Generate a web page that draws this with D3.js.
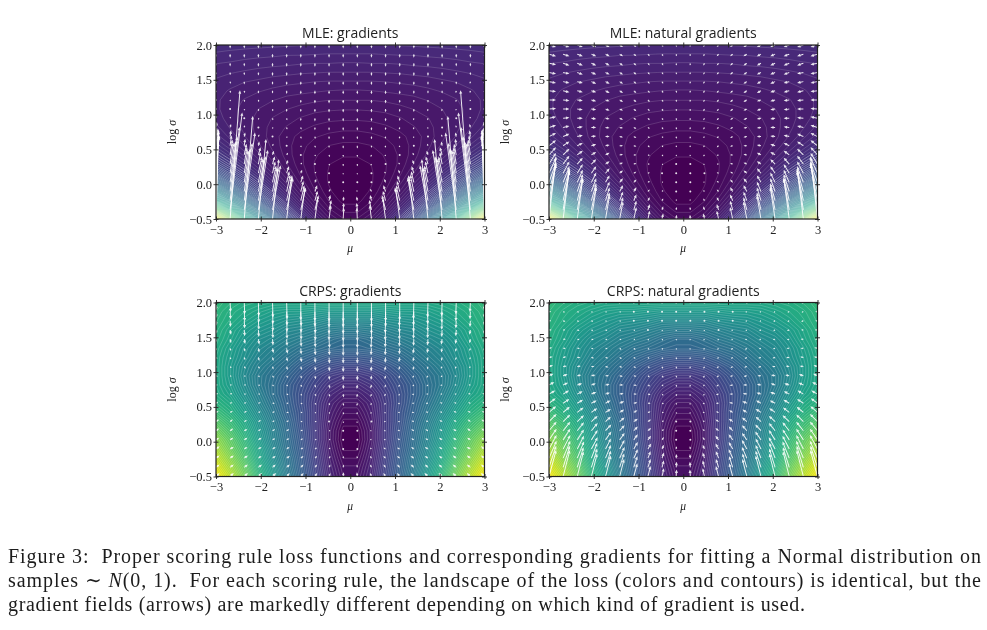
<!DOCTYPE html>
<html><head><meta charset="utf-8">
<script src="https://cdn.jsdelivr.net/npm/d3@7"></script>
<style>
html,body{margin:0;padding:0;background:#fff;overflow:hidden}
svg{display:block;filter:blur(.5px)}
</style></head><body><svg id="c" width="987" height="630"></svg>
<script>
// Half-grid readings: columns run from |mu|=3 in to |mu|=0.158, rows from log sigma=-0.5 up to 2.0.
const muTicks=[-3,-2,-1,0,1,2,3];
const sigmaTicks=[-0.5,0,0.5,1,1.5,2];
const muRange=[-3,3], sigmaRange=[-0.5,2];
const titles=["MLE: gradients","MLE: natural gradients","CRPS: gradients","CRPS: natural gradients"];

const mleLoss=[
[13.09,10.64,8.48,6.58,4.96,3.60,2.52,1.70,1.16,.89],
[10.07,8.19,6.53,5.07,3.83,2.78,1.95,1.32,.91,.70],
[7.79,6.34,5.06,3.94,2.99,2.18,1.54,1.06,.74,.58],
[6.06,4.95,3.97,3.10,2.37,1.76,1.26,.89,.65,.53],
[4.77,3.92,3.16,2.50,1.93,1.46,1.08,.80,.61,.51],
[3.80,3.15,2.57,2.06,1.62,1.26,.97,.75,.61,.53],
[3.09,2.59,2.14,1.75,1.42,1.14,.91,.74,.63,.58],
[2.58,2.19,1.84,1.54,1.29,1.07,.90,.77,.68,.64],
[2.21,1.91,1.64,1.41,1.22,1.05,.92,.82,.75,.72],
[1.95,1.72,1.52,1.34,1.19,1.06,.96,.89,.84,.81],
[1.80,1.62,1.47,1.33,1.21,1.12,1.04,.98,.94,.92],
[1.70,1.57,1.45,1.34,1.25,1.18,1.12,1.07,1.04,1.03],
[1.66,1.56,1.46,1.38,1.31,1.26,1.21,1.17,1.15,1.14],
[1.66,1.57,1.50,1.44,1.39,1.34,1.31,1.28,1.26,1.26],
[1.68,1.62,1.56,1.52,1.48,1.44,1.42,1.40,1.38,1.37],
[1.73,1.68,1.64,1.61,1.57,1.55,1.53,1.51,1.50,1.50],
[1.81,1.77,1.74,1.71,1.69,1.67,1.65,1.64,1.63,1.63],
[1.89,1.87,1.84,1.82,1.80,1.79,1.77,1.76,1.76,1.75],
[1.99,1.97,1.95,1.93,1.92,1.90,1.90,1.89,1.88,1.88],
[2.09,2.07,2.06,2.05,2.04,2.03,2.02,2.01,2.01,2.01]];

const crpsLoss=[
[.99,.90,.79,.66,.54,.42,.31,.21,.11,.05],
[.95,.86,.76,.63,.52,.40,.30,.20,.10,.04],
[.91,.82,.72,.60,.49,.39,.29,.19,.09,.025],
[.87,.78,.69,.58,.47,.37,.28,.18,.08,.01],
[.83,.75,.66,.55,.45,.36,.27,.17,.07,0],
[.78,.71,.63,.53,.44,.35,.26,.17,.07,.005],
[.73,.67,.60,.51,.42,.34,.25,.17,.08,.02],
[.68,.63,.56,.48,.40,.32,.25,.17,.09,.04],
[.64,.60,.53,.45,.38,.31,.24,.17,.10,.06],
[.61,.57,.50,.43,.36,.30,.24,.18,.12,.09],
[.60,.55,.48,.41,.36,.30,.25,.20,.15,.12],
[.60,.54,.47,.41,.37,.32,.27,.22,.18,.16],
[.60,.54,.48,.43,.39,.35,.30,.26,.23,.21],
[.60,.55,.50,.45,.42,.38,.34,.31,.28,.27],
[.61,.56,.51,.47,.44,.41,.38,.36,.34,.33],
[.62,.58,.53,.49,.47,.44,.42,.40,.37,.35],
[.63,.59,.55,.52,.50,.47,.46,.44,.42,.41],
[.64,.61,.58,.55,.53,.51,.50,.49,.47,.47],
[.65,.62,.60,.58,.56,.55,.55,.54,.53,.53],
[.66,.64,.62,.61,.60,.60,.60,.60,.60,.60]];

// Arrow components: du = step toward mu=0, dv = step up in log sigma (both in axis units)
const mleGradDu=[
[.05,.22,.19,.17,.14,.12,.09,.065,.04,.013],
[.05,.27,.24,.21,.18,.14,.11,.08,.05,.015],
[.05,.21,.18,.16,.13,.11,.08,.06,.03,.015],
[.05,.16,.14,.13,.10,.08,.06,.05,.03,.015],
[.06,.13,.11,.10,.08,.06,.05,.03,.015,0],
[.07,.10,.08,.08,.06,.05,.03,.03,.015,0],
[.07,.07,.06,.05,.05,.03,.03,.015,.015,0],
[.06,.05,.05,.05,.03,.03,.015,.015,.015,0],
[.03,.03,.02,.02,.02,.01,.01,.01,0,0],
[.02,.02,.02,.02,.01,.01,.01,.01,0,0],
[.02,.02,.01,.01,.01,.01,.01,0,0,0],
[.01,.01,.01,.01,.01,.01,0,0,0,0],
[.01,.01,.01,.01,.01,0,0,0,0,0],
[.01,.01,.01,.01,0,0,0,0,0,0],
[.01,.01,.01,0,0,0,0,0,0,0],
[.01,.01,0,0,0,0,0,0,0,0],
[.01,0,0,0,0,0,0,0,0,0],
[0,0,0,0,0,0,0,0,0,0],
[0,0,0,0,0,0,0,0,0,0],
[0,0,0,0,0,0,0,0,0,0]];
const mleGradDv=[
[1.10,1.85,1.48,1.15,.86,.63,.44,.30,.20,.16],
[1.05,1.40,1.11,.86,.64,.46,.32,.21,.14,.10],
[1.00,1.06,.83,.64,.47,.33,.22,.14,.08,.06],
[.90,.79,.62,.47,.34,.24,.15,.09,.04,.02],
[.74,.59,.46,.34,.24,.16,.10,.05,.01,0],
[.55,.43,.33,.24,.17,.10,.05,.02,-.01,-.02],
[.40,.31,.24,.17,.11,.06,.02,-.01,-.02,-.03],
[.29,.22,.16,.11,.06,.03,0,-.02,-.03,-.03],
[.20,.15,.10,.06,.03,0,-.02,-.03,-.03,-.04],
[.13,.09,.06,.03,0,-.02,-.03,-.03,-.04,-.04],
[.08,.05,.03,0,-.02,-.03,-.03,-.04,-.045,-.045],
[.04,.02,0,-.02,-.03,-.03,-.04,-.045,-.045,-.045],
[.01,0,-.02,-.03,-.03,-.04,-.04,-.045,-.05,-.05],
[-.01,-.02,-.03,-.03,-.04,-.04,-.045,-.05,-.05,-.05],
[-.02,-.03,-.03,-.04,-.04,-.045,-.05,-.05,-.05,-.05],
[-.03,-.03,-.04,-.04,-.045,-.05,-.05,-.05,-.05,-.05],
[-.03,-.04,-.04,-.045,-.05,-.05,-.05,-.05,-.05,-.05],
[-.04,-.045,-.045,-.05,-.05,-.05,-.05,-.05,-.05,-.05],
[-.045,-.05,-.05,-.05,-.05,-.05,-.05,-.05,-.05,-.05],
[-.05,-.05,-.05,-.05,-.05,-.05,-.05,-.05,-.05,-.05]];

const mleNaturalDuRow=[.157,.14,.124,.108,.091,.075,.058,.041,.025,.008];
const mleNaturalDv=[
[.90,.73,.59,.45,.34,.25,.17,.12,.08,.06],
[.69,.56,.44,.34,.25,.18,.13,.08,.05,.04],
[.52,.42,.33,.25,.19,.13,.09,.05,.03,.02],
[.39,.31,.25,.19,.14,.09,.06,.03,.02,.01],
[.29,.23,.18,.14,.10,.06,.04,.02,.01,0],
[.22,.17,.13,.10,.07,.04,.02,.01,0,-.01],
[.16,.12,.09,.07,.04,.02,.01,0,-.01,-.01],
[.11,.09,.06,.04,.03,.01,0,-.01,-.02,-.02],
[.08,.06,.04,.02,.01,0,-.01,-.02,-.02,-.02],
[.05,.04,.02,.01,0,-.01,-.02,-.02,-.02,-.03],
[.03,.02,.01,0,-.01,-.01,-.02,-.02,-.03,-.03],
[.02,.01,0,-.01,-.01,-.02,-.02,-.03,-.03,-.03],
[.01,0,-.01,-.01,-.02,-.02,-.03,-.03,-.03,-.03],
[0,-.01,-.01,-.02,-.02,-.03,-.03,-.03,-.03,-.03],
[-.01,-.02,-.02,-.02,-.03,-.03,-.03,-.03,-.03,-.03],
[-.02,-.02,-.02,-.03,-.03,-.03,-.03,-.03,-.03,-.03],
[-.02,-.02,-.03,-.03,-.03,-.03,-.03,-.03,-.03,-.03],
[-.02,-.03,-.03,-.03,-.03,-.03,-.03,-.03,-.03,-.03],
[-.03,-.03,-.03,-.03,-.03,-.03,-.03,-.03,-.03,-.03],
[-.03,-.03,-.03,-.03,-.03,-.03,-.03,-.03,-.03,-.03]];

const crpsGradDu=[
[.08,.08,.08,.08,.08,.07,.06,.05,.03,.01],
[.08,.08,.08,.08,.07,.07,.06,.05,.03,.01],
[.08,.08,.08,.07,.07,.07,.06,.05,.03,.01],
[.08,.08,.07,.07,.07,.06,.06,.05,.03,.01],
[.07,.07,.07,.07,.06,.06,.05,.04,.03,.01],
[.07,.07,.07,.06,.06,.06,.05,.04,.03,.01],
[.07,.06,.06,.06,.05,.05,.04,.04,.02,.01],
[.06,.06,.06,.05,.05,.05,.04,.03,.02,.01],
[.05,.05,.05,.05,.05,.04,.04,.03,.02,.01],
[.05,.05,.04,.04,.04,.04,.03,.03,.02,.01],
[.04,.04,.04,.04,.03,.03,.03,.02,.02,.01],
[.04,.03,.03,.03,.03,.03,.02,.02,.01,0],
[.03,.03,.03,.03,.02,.02,.02,.02,.01,0],
[.03,.02,.02,.02,.02,.02,.02,.01,.01,0],
[.02,.02,.02,.02,.02,.02,.01,.01,.01,0],
[.02,.02,.02,.02,.01,.01,.01,.01,.01,0],
[.02,.02,.01,.01,.01,.01,.01,.01,0,0],
[.01,.01,.01,.01,.01,.01,.01,.01,0,0],
[.01,.01,.01,.01,.01,.01,.01,0,0,0],
[.01,.01,.01,.01,.01,.01,0,0,0,0]];
const crpsGradDv=[
[.05,.05,.05,.05,.05,.05,.05,.05,.05,.06],
[.04,.04,.04,.04,.04,.04,.04,.04,.04,.04],
[.04,.04,.04,.03,.03,.03,.03,.03,.03,.03],
[.04,.03,.03,.03,.03,.03,.02,.02,.02,.01],
[.03,.03,.03,.03,.02,.02,.02,.01,.01,0],
[.03,.03,.02,.02,.02,.02,.01,0,0,-.01],
[.03,.03,.02,.02,.01,.01,0,0,-.01,-.02],
[.02,.02,.02,.01,.01,0,0,-.01,-.02,-.03],
[.02,.01,.01,.01,0,0,-.01,-.02,-.03,-.04],
[.01,.01,0,0,0,-.01,-.02,-.03,-.04,-.05],
[0,0,0,-.01,-.02,-.02,-.03,-.04,-.05,-.06],
[-.01,-.01,-.01,-.02,-.03,-.03,-.04,-.05,-.06,-.07],
[-.01,-.02,-.03,-.03,-.04,-.05,-.05,-.06,-.07,-.08],
[-.02,-.03,-.04,-.05,-.05,-.06,-.07,-.08,-.09,-.09],
[-.03,-.04,-.05,-.06,-.07,-.08,-.09,-.10,-.10,-.11],
[-.04,-.06,-.07,-.08,-.09,-.10,-.11,-.12,-.13,-.13],
[-.05,-.07,-.09,-.10,-.12,-.13,-.14,-.15,-.15,-.16],
[-.07,-.09,-.11,-.13,-.15,-.16,-.17,-.18,-.19,-.19],
[-.09,-.11,-.14,-.16,-.18,-.20,-.21,-.22,-.23,-.23],
[-.11,-.14,-.17,-.20,-.22,-.24,-.26,-.27,-.28,-.28]];

const crpsNaturalDu=[
[.16,.15,.14,.13,.12,.10,.08,.06,.04,.01],
[.16,.15,.14,.13,.12,.10,.08,.06,.04,.01],
[.17,.16,.15,.13,.12,.11,.09,.06,.04,.01],
[.17,.16,.15,.14,.12,.11,.09,.07,.04,.01],
[.17,.16,.15,.14,.13,.11,.09,.07,.04,.01],
[.17,.16,.15,.14,.13,.11,.09,.07,.04,.01],
[.17,.16,.15,.14,.12,.11,.09,.07,.04,.01],
[.16,.15,.14,.13,.12,.10,.08,.06,.04,.01],
[.15,.14,.13,.12,.11,.10,.08,.06,.04,.01],
[.14,.13,.12,.11,.10,.09,.07,.06,.03,.01],
[.12,.11,.11,.10,.09,.08,.07,.05,.03,.01],
[.10,.10,.09,.09,.08,.07,.06,.04,.03,.01],
[.09,.08,.08,.07,.07,.06,.05,.04,.02,.01],
[.08,.07,.07,.06,.06,.05,.04,.03,.02,.01],
[.07,.06,.06,.05,.05,.04,.04,.03,.02,.01],
[.06,.06,.05,.05,.04,.04,.03,.02,.02,.01],
[.06,.05,.05,.04,.04,.03,.03,.02,.01,0],
[.05,.05,.04,.04,.03,.03,.02,.02,.01,0],
[.05,.04,.04,.03,.03,.03,.02,.02,.01,0],
[.04,.04,.03,.03,.03,.02,.02,.01,.01,0]];
const crpsNaturalDv=[
[.38,.38,.36,.33,.30,.25,.19,.15,.12,.10],
[.31,.31,.29,.27,.24,.20,.16,.12,.10,.08],
[.25,.25,.24,.22,.19,.16,.13,.10,.08,.06],
[.20,.20,.19,.17,.15,.13,.10,.08,.06,.04],
[.16,.16,.15,.14,.12,.10,.08,.06,.04,.01],
[.13,.13,.12,.11,.09,.08,.06,.04,.02,0],
[.11,.10,.09,.08,.07,.06,.04,.03,.01,-.01],
[.09,.08,.07,.06,.05,.04,.03,.01,0,-.02],
[.07,.06,.05,.04,.04,.03,.01,0,-.01,-.02],
[.05,.05,.04,.03,.02,.01,0,-.01,-.02,-.03],
[.04,.03,.02,.02,.01,0,-.01,-.02,-.02,-.03],
[.03,.02,.01,.01,0,-.01,-.01,-.02,-.03,-.03],
[.02,.01,.01,0,-.01,-.01,-.02,-.02,-.03,-.03],
[.01,.01,0,-.01,-.01,-.02,-.02,-.02,-.03,-.03],
[.01,0,0,-.01,-.01,-.02,-.02,-.02,-.02,-.02],
[0,0,-.01,-.01,-.01,-.01,-.01,-.02,-.02,-.02],
[0,0,-.01,-.01,-.01,-.01,-.01,-.01,-.02,-.02],
[0,-.01,-.01,-.01,-.01,-.01,-.01,-.01,-.01,-.01],
[0,-.01,-.01,-.01,-.01,-.01,-.01,-.01,-.01,-.01],
[0,-.01,-.01,-.01,-.01,-.01,-.01,-.01,-.01,-.01]];

const captionLines=[
 [["Figure 3:  Proper scoring rule loss functions and corresponding gradients for fitting a Normal distribution on",""]],
 [["samples ∼ ",""],["N",  "i"],["(0, 1).  For each scoring rule, the landscape of the loss (colors and contours) is identical, but the",""]],
 [["gradient fields (arrows) are markedly different depending on which kind of gradient is used.",""]]
];

// ---- layout ----
const L={w:268.5,h:174,cols:[216,549],rows:[45,302.5]};
const capX=8, capRight=[981,981,805], capY=[563,587,611];
const SERIF='"Liberation Serif","DejaVu Serif",serif', SANS='"Open Sans","Noto Sans",sans-serif';

const svg=d3.select("#c");
const mleLine=v=>v<2.3?.22:.5, crpsLine=()=>.27;
const panels=[
 {loss:mleLoss,min:.5,max:13.09,step:.1259,line:mleLine,du:mleGradDu,dv:mleGradDv},
 {loss:mleLoss,min:.5,max:13.09,step:.1259,line:mleLine,du:mleGradDv.map(()=>mleNaturalDuRow),dv:mleNaturalDv},
 {loss:crpsLoss,min:0,max:1,step:.0125,line:crpsLine,du:crpsGradDu,dv:crpsGradDv},
 {loss:crpsLoss,min:0,max:1,step:.0125,line:crpsLine,du:crpsNaturalDu,dv:crpsNaturalDv}
];
const mirror=t=>t.map(r=>[...r,...r.slice().reverse()]);
const N=20;

panels.forEach((p,k)=>{
 const ox=L.cols[k%2], oy=L.rows[k>>1];
 const g=svg.append("g").attr("transform",`translate(${ox},${oy})`);
 const x=d3.scaleLinear().domain(muRange).range([0,L.w]);
 const y=d3.scaleLinear().domain(sigmaRange).range([L.h,0]);
 const colMu=d3.scaleLinear().domain([0,N-1]).range(muRange);
 const rowSig=d3.scaleLinear().domain([0,N-1]).range(sigmaRange);
 const color=d3.scaleSequential(d3.interpolateViridis).domain([p.min,p.max]);
 const id="clip"+k;
 g.append("clipPath").attr("id",id).append("rect").attr("width",L.w).attr("height",L.h);
 const plot=g.append("g").attr("clip-path",`url(#${id})`);
 plot.append("rect").attr("width",L.w).attr("height",L.h).attr("fill",color(p.min));

 const vals=mirror(p.loss).flat();
 const th=d3.range(p.min+p.step,p.max,p.step);
 const conts=d3.contours().size([N,N]).thresholds(th)(vals);
 const path=d3.geoPath(d3.geoTransform({point(a,b){this.stream.point(x(colMu(a-.5)),y(rowSig(b-.5)));}}));
 plot.append("g").selectAll("path").data(conts).join("path")
   .attr("d",path).attr("fill",d=>color(d.value+p.step/2)).attr("stroke","none");
 plot.append("g").selectAll("path").data(conts).join("path")
   .attr("d",path).attr("fill","none").attr("stroke","#fff")
   .attr("stroke-opacity",d=>p.line(d.value)).attr("stroke-width",.7);

 // quiver
 const du=mirror(p.du), dv=mirror(p.dv);
 const arrows=()=>{
  const out=[];
  for(let r=0;r<N;r++)for(let c=0;c<N;c++){
    const m=colMu(c), s=rowSig(r), sign=c<N/2?1:-1;
    out.push([x(m),y(s),x(m+sign*du[r][c]),y(s+dv[r][c])]);
  }
  return out;
 };
 const W=.5, HW=1.5, HL=3.4;
 plot.append("g").selectAll("path").data(arrows()).join("path")
  .attr("fill","#fff").attr("fill-opacity",.88)
  .attr("d",([a,b,c,d])=>{
    const dx=c-a,dy=d-b,len=Math.hypot(dx,dy);
    if(len<1.2) return `M${a-1},${b}a1,1 0 1,0 2,0a1,1 0 1,0 -2,0Z`;
    const ux=dx/len,uy=dy/len,nx=-uy,ny=ux;
    const f=Math.min(1,len/5);
    const hl=HL*f,hw=Math.max(HW*f,.9), bx=c-ux*hl, by=d-uy*hl;
    const P=(px,py,o)=>`${px+nx*o},${py+ny*o}`;
    return `M${P(a,b,W)}L${P(bx,by,W)}L${P(bx,by,hw)}L${c},${d}L${P(bx,by,-hw)}L${P(bx,by,-W)}L${P(a,b,-W)}Z`;
  });

 // axes
 const fmt=d3.format(".1f");
 const sty=(a,dir)=>{
   a.select(".domain").remove();
   a.selectAll("line").attr("stroke","#222").attr("stroke-width",.9)
    .each(function(){const l=d3.select(this);
      if(dir) l.attr(dir+"1",-2.5).attr(dir+"2",2.5);});
   a.selectAll("text").attr("font-family",SERIF).attr("font-size",12.5).attr("fill","#222");
 };
 const mf=v=>(v<0?"−":"")+Math.abs(v);
 const sf=v=>(v<0?"−":"")+fmt(Math.abs(v));
 g.append("g").attr("transform",`translate(0,${L.h})`).call(d3.axisBottom(x).tickValues(muTicks).tickFormat(mf).tickSize(3).tickPadding(3)).call(sty,"y");
 g.append("g").call(d3.axisTop(x).tickValues(muTicks).tickFormat("").tickSize(3)).call(sty,"y");
 g.append("g").call(d3.axisLeft(y).tickValues(sigmaTicks).tickFormat(sf).tickSize(3).tickPadding(1)).call(sty,"x");
 g.append("g").attr("transform",`translate(${L.w},0)`).call(d3.axisRight(y).tickValues(sigmaTicks).tickFormat("").tickSize(3)).call(sty,"x");
 g.append("rect").attr("width",L.w).attr("height",L.h).attr("fill","none").attr("stroke","#222").attr("stroke-width",1.2);

 g.append("text").attr("x",L.w/2).attr("y",-7).attr("text-anchor","middle")
  .attr("font-family",SANS).attr("font-size",14).attr("fill","#222").text(titles[k]);
 g.append("text").attr("x",L.w/2).attr("y",L.h+33).attr("text-anchor","middle")
  .attr("font-family",SERIF).attr("font-style","italic").attr("font-size",11.5).attr("fill","#222").text("μ");
 const yl=g.append("text").attr("transform",`translate(-40,${L.h/2}) rotate(-90)`).attr("text-anchor","middle")
  .attr("font-family",SERIF).attr("font-size",12).attr("fill","#222");
 yl.append("tspan").text("log ");
 yl.append("tspan").attr("font-style","italic").text("σ");
});

// caption
captionLines.forEach((ln,i)=>{
 const t=svg.append("text").attr("x",capX).attr("y",capY[i]).attr("font-family",SERIF)
   .attr("font-size",20).attr("fill","#1c1c1c").style("white-space","pre");
 ln.forEach(([s,st])=>{const sp=t.append("tspan").text(s); if(st==="i") sp.attr("font-style","italic");});
 t.attr("textLength",capRight[i]-capX).attr("lengthAdjust","spacing");
});
</script></body></html>
